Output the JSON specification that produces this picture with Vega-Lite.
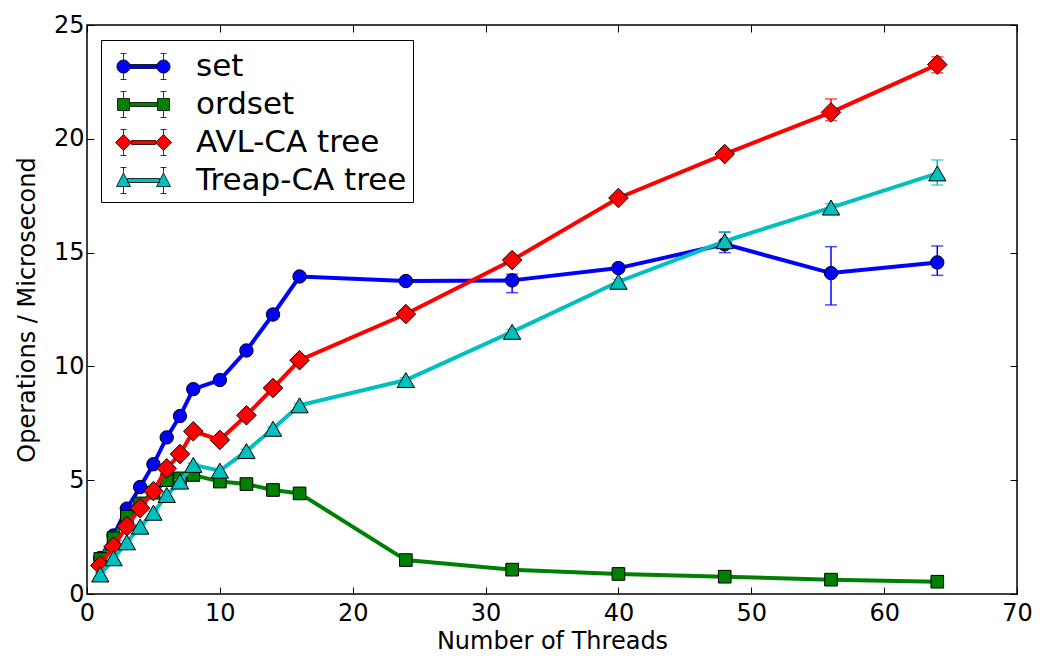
{
  "$schema": "https://vega.github.io/schema/vega-lite/v6.json",
  "width": 930,
  "height": 569,
  "autosize": {"type": "none"},
  "padding": {"left": 87, "top": 25, "right": 29, "bottom": 73},
  "background": "white",
  "config": {
    "font": "DejaVu Sans",
    "view": {"stroke": "black", "strokeWidth": 1.5},
    "scale": {"continuousPadding": 0},
    "legend": {"symbolFillColor": "white"},
    "axis": {
      "grid": false,
      "domain": false,
      "tickColor": "black",
      "tickSize": -7,
      "tickWidth": 1,
      "labelFlush": false,
      "labelOverlap": false,
      "labelFont": "DejaVu Sans",
      "labelFontSize": 24,
      "labelColor": "black",
      "titleFont": "DejaVu Sans",
      "titleFontSize": 24,
      "titleFontWeight": "normal",
      "titleColor": "black"
    }
  },
  "data": {
    "values": [
      {"series": "set", "threads": 1, "value": 1.58, "lo": 1.5, "hi": 1.66},
      {"series": "set", "threads": 2, "value": 2.57, "lo": 2.49, "hi": 2.65},
      {"series": "set", "threads": 3, "value": 3.75, "lo": 3.67, "hi": 3.83},
      {"series": "set", "threads": 4, "value": 4.7, "lo": 4.62, "hi": 4.78},
      {"series": "set", "threads": 5, "value": 5.7, "lo": 5.62, "hi": 5.78},
      {"series": "set", "threads": 6, "value": 6.88, "lo": 6.8, "hi": 6.96},
      {"series": "set", "threads": 7, "value": 7.82, "lo": 7.74, "hi": 7.9},
      {"series": "set", "threads": 8, "value": 9.0, "lo": 8.92, "hi": 9.08},
      {"series": "set", "threads": 10, "value": 9.4, "lo": 9.32, "hi": 9.48},
      {"series": "set", "threads": 12, "value": 10.7, "lo": 10.62, "hi": 10.78},
      {"series": "set", "threads": 14, "value": 12.28, "lo": 12.2, "hi": 12.36},
      {"series": "set", "threads": 16, "value": 13.95, "lo": 13.87, "hi": 14.03},
      {"series": "set", "threads": 24, "value": 13.75, "lo": 13.67, "hi": 13.83},
      {"series": "set", "threads": 32, "value": 13.78, "lo": 13.24, "hi": 14.05},
      {"series": "set", "threads": 40, "value": 14.32, "lo": 14.22, "hi": 14.42},
      {"series": "set", "threads": 48, "value": 15.37, "lo": 15.0, "hi": 15.9},
      {"series": "set", "threads": 56, "value": 14.1, "lo": 12.7, "hi": 15.26},
      {"series": "set", "threads": 64, "value": 14.57, "lo": 14.0, "hi": 15.29},
      {"series": "ordset", "threads": 1, "value": 1.54, "lo": 1.46, "hi": 1.62},
      {"series": "ordset", "threads": 2, "value": 2.45, "lo": 2.37, "hi": 2.53},
      {"series": "ordset", "threads": 3, "value": 3.4, "lo": 3.32, "hi": 3.48},
      {"series": "ordset", "threads": 4, "value": 3.98, "lo": 3.9, "hi": 4.06},
      {"series": "ordset", "threads": 5, "value": 4.45, "lo": 4.37, "hi": 4.53},
      {"series": "ordset", "threads": 6, "value": 5.0, "lo": 4.92, "hi": 5.08},
      {"series": "ordset", "threads": 7, "value": 5.08, "lo": 5.0, "hi": 5.16},
      {"series": "ordset", "threads": 8, "value": 5.23, "lo": 5.15, "hi": 5.31},
      {"series": "ordset", "threads": 10, "value": 4.94, "lo": 4.86, "hi": 5.02},
      {"series": "ordset", "threads": 12, "value": 4.83, "lo": 4.75, "hi": 4.91},
      {"series": "ordset", "threads": 14, "value": 4.57, "lo": 4.49, "hi": 4.65},
      {"series": "ordset", "threads": 16, "value": 4.42, "lo": 4.34, "hi": 4.5},
      {"series": "ordset", "threads": 24, "value": 1.49, "lo": 1.43, "hi": 1.55},
      {"series": "ordset", "threads": 32, "value": 1.07, "lo": 1.01, "hi": 1.13},
      {"series": "ordset", "threads": 40, "value": 0.88, "lo": 0.82, "hi": 0.94},
      {"series": "ordset", "threads": 48, "value": 0.76, "lo": 0.7, "hi": 0.82},
      {"series": "ordset", "threads": 56, "value": 0.63, "lo": 0.57, "hi": 0.69},
      {"series": "ordset", "threads": 64, "value": 0.54, "lo": 0.48, "hi": 0.6},
      {"series": "AVL-CA tree", "threads": 1, "value": 1.25, "lo": 1.17, "hi": 1.33},
      {"series": "AVL-CA tree", "threads": 2, "value": 2.08, "lo": 2.0, "hi": 2.16},
      {"series": "AVL-CA tree", "threads": 3, "value": 2.98, "lo": 2.9, "hi": 3.06},
      {"series": "AVL-CA tree", "threads": 4, "value": 3.77, "lo": 3.69, "hi": 3.85},
      {"series": "AVL-CA tree", "threads": 5, "value": 4.52, "lo": 4.44, "hi": 4.6},
      {"series": "AVL-CA tree", "threads": 6, "value": 5.52, "lo": 5.44, "hi": 5.6},
      {"series": "AVL-CA tree", "threads": 7, "value": 6.15, "lo": 6.07, "hi": 6.23},
      {"series": "AVL-CA tree", "threads": 8, "value": 7.15, "lo": 7.07, "hi": 7.23},
      {"series": "AVL-CA tree", "threads": 10, "value": 6.77, "lo": 6.69, "hi": 6.85},
      {"series": "AVL-CA tree", "threads": 12, "value": 7.85, "lo": 7.77, "hi": 7.93},
      {"series": "AVL-CA tree", "threads": 14, "value": 9.05, "lo": 8.97, "hi": 9.13},
      {"series": "AVL-CA tree", "threads": 16, "value": 10.27, "lo": 10.19, "hi": 10.35},
      {"series": "AVL-CA tree", "threads": 24, "value": 12.3, "lo": 12.22, "hi": 12.38},
      {"series": "AVL-CA tree", "threads": 32, "value": 14.67, "lo": 14.57, "hi": 14.77},
      {"series": "AVL-CA tree", "threads": 40, "value": 17.4, "lo": 17.3, "hi": 17.5},
      {"series": "AVL-CA tree", "threads": 48, "value": 19.33, "lo": 19.23, "hi": 19.43},
      {"series": "AVL-CA tree", "threads": 56, "value": 21.16, "lo": 20.8, "hi": 21.75},
      {"series": "AVL-CA tree", "threads": 64, "value": 23.26, "lo": 22.9, "hi": 23.6},
      {"series": "Treap-CA tree", "threads": 1, "value": 0.86, "lo": 0.78, "hi": 0.94},
      {"series": "Treap-CA tree", "threads": 2, "value": 1.57, "lo": 1.49, "hi": 1.65},
      {"series": "Treap-CA tree", "threads": 3, "value": 2.27, "lo": 2.19, "hi": 2.35},
      {"series": "Treap-CA tree", "threads": 4, "value": 2.96, "lo": 2.88, "hi": 3.04},
      {"series": "Treap-CA tree", "threads": 5, "value": 3.57, "lo": 3.49, "hi": 3.65},
      {"series": "Treap-CA tree", "threads": 6, "value": 4.35, "lo": 4.27, "hi": 4.43},
      {"series": "Treap-CA tree", "threads": 7, "value": 4.94, "lo": 4.86, "hi": 5.02},
      {"series": "Treap-CA tree", "threads": 8, "value": 5.67, "lo": 5.59, "hi": 5.75},
      {"series": "Treap-CA tree", "threads": 10, "value": 5.42, "lo": 5.34, "hi": 5.5},
      {"series": "Treap-CA tree", "threads": 12, "value": 6.28, "lo": 6.2, "hi": 6.36},
      {"series": "Treap-CA tree", "threads": 14, "value": 7.26, "lo": 7.18, "hi": 7.34},
      {"series": "Treap-CA tree", "threads": 16, "value": 8.29, "lo": 8.21, "hi": 8.37},
      {"series": "Treap-CA tree", "threads": 24, "value": 9.4, "lo": 9.3, "hi": 9.5},
      {"series": "Treap-CA tree", "threads": 32, "value": 11.52, "lo": 11.42, "hi": 11.62},
      {"series": "Treap-CA tree", "threads": 40, "value": 13.72, "lo": 13.62, "hi": 13.82},
      {"series": "Treap-CA tree", "threads": 48, "value": 15.5, "lo": 15.2, "hi": 15.9},
      {"series": "Treap-CA tree", "threads": 56, "value": 16.98, "lo": 16.8, "hi": 17.15},
      {"series": "Treap-CA tree", "threads": 64, "value": 18.48, "lo": 17.97, "hi": 19.07}
    ]
  },
  "resolve": {"axis": {"x": "independent", "y": "independent"}},
  "layer": [
    {
      "mark": {"type": "point", "opacity": 0},
      "encoding": {
        "x": {"field": "threads", "type": "quantitative", "scale": {"domain": [0, 70], "nice": false, "padding": 0},
              "axis": {"orient": "bottom", "values": [0, 10, 20, 30, 40, 50, 60, 70], "title": "Number of Threads", "labelPadding": 14, "titlePadding": 4}},
        "y": {"field": "value", "type": "quantitative", "scale": {"domain": [0, 25], "nice": false, "padding": 0},
              "axis": {"orient": "left", "values": [0, 5, 10, 15, 20, 25], "title": "Operations / Microsecond", "labelPadding": 10, "titlePadding": 14}}
      }
    },
    {
      "mark": {"type": "point", "opacity": 0},
      "encoding": {
        "x": {"field": "threads", "type": "quantitative",
              "axis": {"orient": "top", "values": [0, 10, 20, 30, 40, 50, 60, 70], "labels": false, "title": null}},
        "y": {"field": "value", "type": "quantitative",
              "axis": {"orient": "right", "values": [0, 5, 10, 15, 20, 25], "labels": false, "title": null}}
      }
    },
    {
      "mark": {"type": "point", "filled": true, "opacity": 0, "stroke": "black", "strokeWidth": 0.8},
      "encoding": {
        "x": {"field": "threads", "type": "quantitative", "axis": null},
        "y": {"field": "value", "type": "quantitative", "axis": null},
        "fill": {
          "field": "series", "type": "nominal",
          "scale": {"domain": ["set", "ordset", "AVL-CA tree", "Treap-CA tree"], "range": ["#0000ff", "#008000", "#ff0000", "#00bfbf"]},
          "legend": {
            "orient": "none", "legendX": 14, "legendY": 15, "title": null,
            "strokeColor": "black", "fillColor": "white", "padding": 6,
            "symbolSize": 1600, "symbolOpacity": 1, "symbolStrokeColor": "black", "symbolStrokeWidth": 0.8, "symbolFillColor": "white",
            "labelFontSize": 31, "labelFont": "DejaVu Sans", "labelColor": "black", "labelLimit": 0,
            "rowPadding": 2, "symbolOffset": 16, "labelOffset": 32, "cornerRadius": 0
          }
        },
        "shape": {
          "field": "series", "type": "nominal",
          "scale": {
            "domain": ["set", "ordset", "AVL-CA tree", "Treap-CA tree"],
            "range": [
              "M-0.67,-0.1L0.67,-0.1L0.67,0.1L-0.67,0.1ZM-0.67,0A0.33,0.33,0,1,1,-1.33,0A0.33,0.33,0,1,1,-0.67,0ZM1.33,0A0.33,0.33,0,1,1,0.67,0A0.33,0.33,0,1,1,1.33,0ZM-1,-0.33L-1,-0.65M-1.15,-0.65L-0.85,-0.65M-1,0.33L-1,0.65M-1.15,0.65L-0.85,0.65M1,-0.33L1,-0.65M1.15,-0.65L0.85,-0.65M1,0.33L1,0.65M1.15,0.65L0.85,0.65",
              "M-0.7,-0.1L0.7,-0.1L0.7,0.1L-0.7,0.1ZM-1.3,-0.3L-0.7,-0.3L-0.7,0.3L-1.3,0.3ZM0.7,-0.3L1.3,-0.3L1.3,0.3L0.7,0.3ZM-1,-0.3L-1,-0.65M-1.15,-0.65L-0.85,-0.65M-1,0.3L-1,0.65M-1.15,0.65L-0.85,0.65M1,-0.3L1,-0.65M1.15,-0.65L0.85,-0.65M1,0.3L1,0.65M1.15,0.65L0.85,0.65",
              "M-0.6,-0.1L0.6,-0.1L0.6,0.1L-0.6,0.1ZM-1.4,0L-1,-0.4L-0.6,0L-1,0.4ZM0.6,0L1,-0.4L1.4,0L1,0.4ZM-1,-0.4L-1,-0.65M-1.15,-0.65L-0.85,-0.65M-1,0.4L-1,0.65M-1.15,0.65L-0.85,0.65M1,-0.4L1,-0.65M1.15,-0.65L0.85,-0.65M1,0.4L1,0.65M1.15,0.65L0.85,0.65",
              "M-0.8,-0.1L0.8,-0.1L0.8,0.1L-0.8,0.1ZM-1,-0.38L-0.65,0.3L-1.35,0.3ZM1,-0.38L1.35,0.3L0.65,0.3ZM-1,-0.38L-1,-0.65M-1.15,-0.65L-0.85,-0.65M-1,0.3L-1,0.65M-1.15,0.65L-0.85,0.65M1,-0.38L1,-0.65M1.15,-0.65L0.85,-0.65M1,0.3L1,0.65M1.15,0.65L0.85,0.65"
            ]
          },
          "legend": {
            "orient": "none", "legendX": 14, "legendY": 15, "title": null,
            "strokeColor": "black", "fillColor": "white", "padding": 6,
            "symbolSize": 1600, "symbolOpacity": 1, "symbolStrokeColor": "black", "symbolStrokeWidth": 0.8, "symbolFillColor": "white",
            "labelFontSize": 31, "labelFont": "DejaVu Sans", "labelColor": "black", "labelLimit": 0,
            "rowPadding": 2, "symbolOffset": 16, "labelOffset": 32, "cornerRadius": 0
          }
        }
      }
    },
    {
      "transform": [{"filter": "datum.series === 'set'"}],
      "layer": [
        {
          "mark": {"type": "errorbar", "ticks": {"size": 12}, "thickness": 1.5, "color": "#0000ff"},
          "encoding": {
            "x": {"field": "threads", "type": "quantitative", "axis": null},
            "y": {"field": "lo", "type": "quantitative", "axis": null},
            "y2": {"field": "hi"}
          }
        },
        {
          "mark": {"type": "line", "strokeWidth": 4, "color": "#0000ff"},
          "encoding": {
            "x": {"field": "threads", "type": "quantitative", "axis": null},
            "y": {"field": "value", "type": "quantitative", "axis": null},
            "order": {"field": "threads", "type": "quantitative"}
          }
        },
        {
          "mark": {"type": "point", "shape": "circle", "size": 180, "filled": true, "opacity": 1, "fill": "#0000ff", "stroke": "black", "strokeWidth": 1},
          "encoding": {
            "x": {"field": "threads", "type": "quantitative", "axis": null},
            "y": {"field": "value", "type": "quantitative", "axis": null}
          }
        }
      ]
    },
    {
      "transform": [{"filter": "datum.series === 'ordset'"}],
      "layer": [
        {
          "mark": {"type": "errorbar", "ticks": {"size": 12}, "thickness": 1.5, "color": "#008000"},
          "encoding": {
            "x": {"field": "threads", "type": "quantitative", "axis": null},
            "y": {"field": "lo", "type": "quantitative", "axis": null},
            "y2": {"field": "hi"}
          }
        },
        {
          "mark": {"type": "line", "strokeWidth": 4, "color": "#008000"},
          "encoding": {
            "x": {"field": "threads", "type": "quantitative", "axis": null},
            "y": {"field": "value", "type": "quantitative", "axis": null},
            "order": {"field": "threads", "type": "quantitative"}
          }
        },
        {
          "mark": {"type": "point", "shape": "square", "size": 160, "filled": true, "opacity": 1, "fill": "#008000", "stroke": "black", "strokeWidth": 1},
          "encoding": {
            "x": {"field": "threads", "type": "quantitative", "axis": null},
            "y": {"field": "value", "type": "quantitative", "axis": null}
          }
        }
      ]
    },
    {
      "transform": [{"filter": "datum.series === 'AVL-CA tree'"}],
      "layer": [
        {
          "mark": {"type": "errorbar", "ticks": {"size": 12}, "thickness": 1.5, "color": "#ff0000"},
          "encoding": {
            "x": {"field": "threads", "type": "quantitative", "axis": null},
            "y": {"field": "lo", "type": "quantitative", "axis": null},
            "y2": {"field": "hi"}
          }
        },
        {
          "mark": {"type": "line", "strokeWidth": 4, "color": "#ff0000"},
          "encoding": {
            "x": {"field": "threads", "type": "quantitative", "axis": null},
            "y": {"field": "value", "type": "quantitative", "axis": null},
            "order": {"field": "threads", "type": "quantitative"}
          }
        },
        {
          "mark": {"type": "point", "shape": "diamond", "size": 380, "filled": true, "opacity": 1, "fill": "#ff0000", "stroke": "black", "strokeWidth": 1},
          "encoding": {
            "x": {"field": "threads", "type": "quantitative", "axis": null},
            "y": {"field": "value", "type": "quantitative", "axis": null}
          }
        }
      ]
    },
    {
      "transform": [{"filter": "datum.series === 'Treap-CA tree'"}],
      "layer": [
        {
          "mark": {"type": "errorbar", "ticks": {"size": 12}, "thickness": 1.5, "color": "#00bfbf"},
          "encoding": {
            "x": {"field": "threads", "type": "quantitative", "axis": null},
            "y": {"field": "lo", "type": "quantitative", "axis": null},
            "y2": {"field": "hi"}
          }
        },
        {
          "mark": {"type": "line", "strokeWidth": 4, "color": "#00bfbf"},
          "encoding": {
            "x": {"field": "threads", "type": "quantitative", "axis": null},
            "y": {"field": "value", "type": "quantitative", "axis": null},
            "order": {"field": "threads", "type": "quantitative"}
          }
        },
        {
          "mark": {"type": "point", "shape": "triangle-up", "size": 300, "filled": true, "opacity": 1, "fill": "#00bfbf", "stroke": "black", "strokeWidth": 1},
          "encoding": {
            "x": {"field": "threads", "type": "quantitative", "axis": null},
            "y": {"field": "value", "type": "quantitative", "axis": null}
          }
        }
      ]
    }
  ]
}
